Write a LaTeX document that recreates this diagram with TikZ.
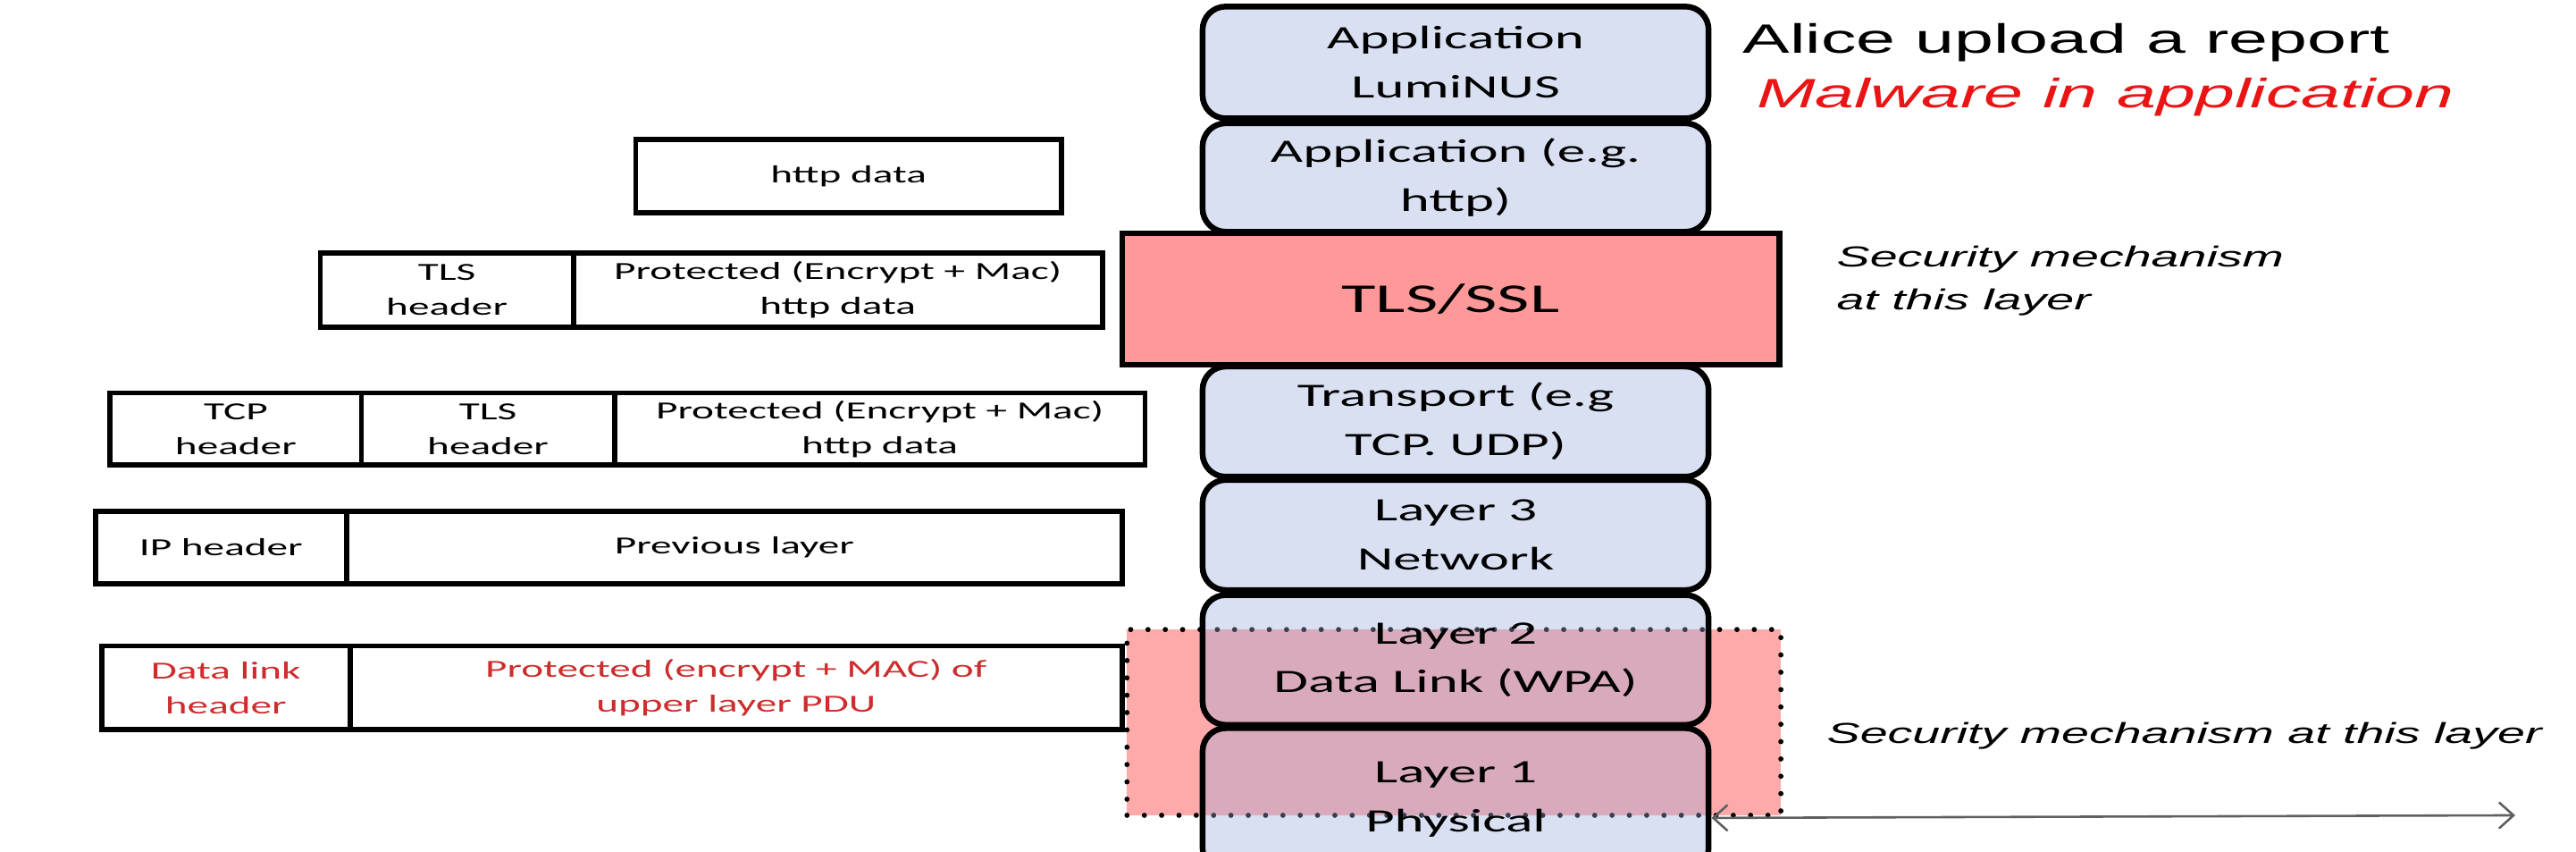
\documentclass[tikz,border=0pt]{standalone}
\usepackage{fontspec}
\newfontfamily\boxfont[FakeStretch=1.72]{Carlito}
\newfontfamily\notefont[FakeStretch=1.72]{Liberation Sans}
\usetikzlibrary{arrows.meta}
\definecolor{layerblue}{RGB}{152,171,220}
\definecolor{tlsred}{RGB}{255,153,153}
\definecolor{wpapink}{RGB}{255,170,170}
\definecolor{pdured}{RGB}{205,45,45}
\definecolor{malred}{RGB}{235,20,20}
\definecolor{arrowgray}{RGB}{95,95,95}

\begin{document}
\begin{tikzpicture}[x=0.2mm,y=-0.2mm]
        % Styles
        \tikzstyle{layer}=[draw,line width=2pt,fill=layerblue,fill opacity=0.37,text opacity=1,rounded corners=8pt,minimum width=61.6mm,inner sep=0pt,align=center,font=\boxfont\fontsize{11.3}{17}\selectfont]
        \tikzstyle{secure layer}=[layer,fill=tlsred,fill opacity=1,sharp corners,minimum width=80mm,font=\boxfont\fontsize{14.2}{17}\selectfont]
        \tikzstyle{cell}=[draw,line width=1.8pt,inner sep=0pt,align=center,font=\boxfont\fontsize{8.5}{12}\selectfont]
        \tikzstyle{headline}=[inner sep=0pt,anchor=base west,font=\notefont\fontsize{14.2}{17}\selectfont]
        \tikzstyle{remark}=[inner sep=0pt,font=\notefont\itshape\fontsize{10}{15}\selectfont]
        \tikzstyle{both ways}=[arrowgray,line width=0.8pt,{Straight Barb[length=5pt,width=9pt]}-{Straight Barb[length=5pt,width=9pt]}]
        %frame
        \useasboundingbox (0,0) rectangle (1568,518);
        \clip (0,0) rectangle (1568,518);
        %protected zone of layer 2 and 1, behind the stack
        \node[draw,fill=wpapink,line width=1.8pt,line cap=round,dash pattern=on 0pt off 6pt,minimum width=79.6mm,minimum height=22.6mm] (wpa) at (885,439.5) {};
        %the stack
        \node[layer,minimum height=13.6mm] (app) at (886,38) {Application\\LumiNUS};
        \node[layer,minimum height=13.2mm] (http) at (886,108) {Application (e.g.\\http)};
        \node[secure layer,minimum height=16mm] (tls) at (883,182) {TLS/SSL};
        \node[layer,minimum height=13.4mm] (trans) at (886,256.5) {Transport (e.g\\TCP. UDP)};
        \node[layer,minimum height=13.4mm] (net) at (886,325.5) {Layer 3\\Network};
        \node[layer,minimum height=15.8mm] (link) at (886,401.5) {Layer 2\\Data Link (WPA)};
        \node[layer,minimum height=17.4mm] (phys) at (886,486.5) {Layer 1\\Physical};
        %packets
        \node[cell,minimum width=51.8mm,minimum height=8.9mm] (httpdata) at (516.5,107.3) {http data};
        \node[cell,minimum width=30.8mm,minimum height=9mm] (tlshdr) at (272,176.5) {TLS\\header};
        \node[cell,minimum width=64.4mm,minimum height=9mm] (tlsbody) at (510,176.5) {Protected (Encrypt + Mac)\\http data};
        \node[cell,minimum width=30.6mm,minimum height=8.8mm] (tcphdr) at (143.5,261) {TCP\\header};
        \node[cell,minimum width=30.8mm,minimum height=8.8mm] (tcptls) at (297,261) {TLS\\header};
        \node[cell,minimum width=64.6mm,minimum height=8.8mm] (tcpbody) at (535.5,261) {Protected (Encrypt + Mac)\\http data};
        \node[cell,minimum width=30.6mm,minimum height=8.8mm] (iphdr) at (134.5,333) {IP header};
        \node[cell,minimum width=94.4mm,minimum height=8.8mm] (ipbody) at (447,333) {Previous layer};
        \node[cell,text=pdured,minimum width=30.2mm,minimum height=10.2mm] (linkhdr) at (137.5,418.5) {Data link\\header};
        \node[cell,text=pdured,minimum width=94mm,minimum height=10.2mm] (linkbody) at (448,418.5) {Protected (encrypt + MAC) of\\upper layer PDU};
        %notes
        \node[headline] (alice) at (1060.5,32.3) {Alice upload a report};
        \node[headline,text=malred] (malware) at (1069,65.3) {\itshape Malware in application};
        \node[remark,anchor=west,align=left] (tlsnote) at (1117.7,170.8) {Security mechanism\\at this layer};
        \node[remark,anchor=base west] (wpanote) at (1111.7,452.5) {Security mechanism at this layer};
        \coordinate (farend) at (1531,496);
        \draw[both ways] (phys.east |- wpa.south) -- (farend);
\end{tikzpicture}
\end{document}
